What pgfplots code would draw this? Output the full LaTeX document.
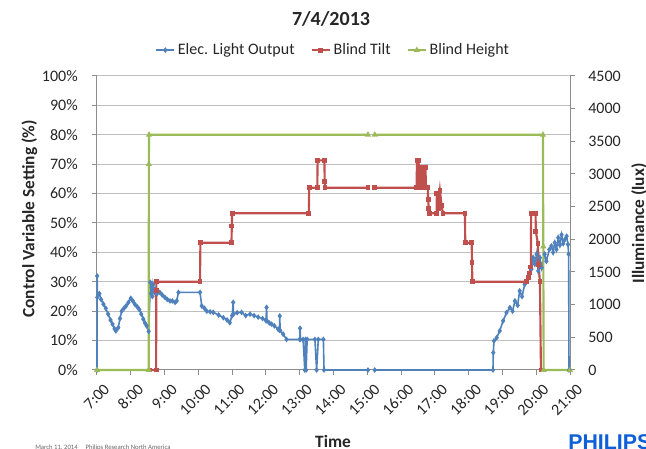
\documentclass[border=0pt]{standalone}
\usepackage{pgfplots}
\pgfplotsset{compat=1.18}
\usepackage{fontspec}
\setmainfont{Carlito}
\newfontfamily\philipsfont{Liberation Sans}
\definecolor{xblue}{HTML}{4F81BD}
\definecolor{xred}{HTML}{C0504D}
\definecolor{xgreen}{HTML}{9BBB59}
\definecolor{gridgray}{HTML}{BFBFBF}
\definecolor{axgray}{HTML}{8C8C8C}
\definecolor{philblue}{HTML}{0E5FD8}
\newcommand{\tfont}{\fontsize{12}{14}\selectfont}
\begin{document}
\begin{tikzpicture}
\useasboundingbox (0,0) rectangle (484.5pt,336.75pt);
\clip (0,0) rectangle (484.5pt,336.75pt);
\begin{axis}[
  at={(72.75pt,59.25pt)}, anchor=south west,
  scale only axis, width=354.75pt, height=220.5pt,
  xmin=7, xmax=21, ymin=0, ymax=100,
  clip=false,
  axis x line*=bottom, axis y line*=left,
  axis line style={axgray, line width=0.75pt},
  tick align=outside, major tick length=3.75pt,
  tick style={axgray, line width=0.75pt},
  xtick={7,8,...,21},
  xticklabels={7:00,8:00,9:00,10:00,11:00,12:00,13:00,14:00,15:00,16:00,17:00,18:00,19:00,20:00,21:00},
  ytick={0,10,...,100},
  yticklabels={0\%,10\%,20\%,30\%,40\%,50\%,60\%,70\%,80\%,90\%,100\%},
  ymajorgrids, grid style={gridgray, line width=0.75pt},
  yticklabel style={font=\tfont, text=black!85, anchor=east, inner sep=0pt, xshift=-10.5pt},
  xticklabel style={font=\tfont, text=black!85, inner sep=0pt, anchor=east, xshift=7.5pt, yshift=-8.6pt, rotate=45},
  unbounded coords=jump,
  legend columns=3,
  legend cell align=left,
  legend style={at={(0.5,1.088)}, anchor=center, draw=none, fill=none, font=\tfont, text=black!85,
    /tikz/every even column/.append style={column sep=10pt}},
  legend image code/.code={\draw[mark repeat=2,mark phase=2] plot coordinates {(0cm,0cm) (0.24cm,0cm) (0.48cm,0cm)};},
]
\addplot[color=xblue, line width=1.2pt, mark=diamond*, mark size=1.2pt, mark options={solid}] coordinates {
(7.00,0) (7.005,32) (7.01,24.7) (7.07,26) (7.12,24) (7.19,22.4) (7.26,21) (7.33,19) (7.40,17)
(7.46,15.6) (7.52,14) (7.56,13.3) (7.63,14.4) (7.68,17.5) (7.73,20) (7.80,21) (7.86,21.8)
(7.93,23) (8.00,24.4) (8.06,23.5) (8.12,22.4) (8.19,21.5) (8.25,20.6) (8.31,19) (8.37,17.3)
(8.42,16) (8.47,15) (8.53,13.1) (8.58,29.8) (8.60,26) (8.62,28) (8.64,25) (8.66,29) (8.70,26.5)
(8.72,27.5) (8.78,26) (8.86,26.4) (8.93,25.5) (9.01,24.7) (9.08,24) (9.16,23.5) (9.23,23.5)
(9.31,23) (9.36,23.5) (9.41,26.4) (10.05,26.4) (10.10,21.8) (10.18,21) (10.25,20)
(10.35,19.8) (10.44,19.6) (10.6,18.7) (10.74,17.8) (10.85,17) (10.93,16.1) (11.00,18.5)
(11.03,23) (11.04,19) (11.15,19.5) (11.28,19.6) (11.40,18.5) (11.53,19) (11.65,18.5) (11.77,18)
(11.90,17.5) (12.00,16.8) (12.02,21.3) (12.03,16.7) (12.10,16) (12.17,15.6) (12.25,15) (12.36,13.9)
(12.40,13.5) (12.41,18.4) (12.42,13.5) (12.51,12.2) (12.61,10.4) (13.00,10.4) (13.01,14.2)
(13.02,10.4) (13.10,10.4) (13.15,0) (13.17,10.4) (13.19,0) (13.22,10.4) (13.45,10.4) (13.50,0)
(13.55,10.4) (13.70,10.4) (13.72,0) (15.02,0) (15.1,nan)
(15.22,0) (18.72,0)
(18.73,5.9) (18.75,9.9) (18.83,11) (18.92,13.3) (19.02,16.7) (19.12,19.5) (19.22,21.2)
(19.30,20) (19.37,23.5) (19.45,22) (19.51,26.9) (19.58,25) (19.66,29.1) (19.76,31.4) (19.86,34.3)
(19.91,38.2) (19.96,36) (20.01,39.4) (20.06,33.7) (20.11,38.2) (20.16,34.8) (20.25,39.4)
(20.30,37) (20.39,41) (20.45,42.2) (20.50,40) (20.55,43.3) (20.60,41) (20.65,45) (20.70,42.5)
(20.75,46) (20.80,43) (20.85,44.4) (20.90,45.5) (20.94,42.7) (20.96,39.4) (20.97,0)
};
\addlegendentry{Elec. Light Output}
\addplot[color=xred, line width=1.6pt, mark=square*, mark size=1.0pt, mark options={solid}] coordinates {
(8.57,0) (8.75,0) (8.755,27) (8.76,30) (10.05,30) (10.06,43.3) (10.98,43.3) (10.99,49)
(11.00,53.3) (13.27,53.3) (13.28,62) (13.52,62) (13.53,71.3) (13.73,71.3) (13.74,64) (13.75,62)
(15.02,62) (15.1,nan) (15.22,62)
(16.46,62) (16.47,71.3) (16.52,71.3) (16.53,62) (16.57,69) (16.61,62) (16.65,69) (16.69,62)
(16.72,69) (16.74,62) (16.79,62) (16.80,58) (16.82,55)
(16.85,53.3) (17.05,53.3) (17.06,60) (17.10,55) (17.15,61) (17.20,56) (17.24,53.3)
(17.89,53.3) (17.90,43.3) (18.09,43.3) (18.10,36.5) (18.11,30) (19.72,30) (19.76,31.4)
(19.80,33) (19.84,35) (19.85,53.3) (19.98,53.3) (19.99,47) (20.05,43) (20.07,36) (20.11,30)
(20.14,0) (20.17,0)
};
\addlegendentry{Blind Tilt}
\addplot[color=xgreen, line width=1.6pt, mark=triangle*, mark size=1.1pt, mark options={solid}] coordinates {
(7.00,0) (8.53,0) (8.535,70) (8.54,80) (15.02,80) (15.1,nan) (15.22,80) (20.20,80) (20.21,42)
(20.22,0) (21.00,0)
};
\addlegendentry{Blind Height}
\end{axis}
\begin{axis}[
  at={(72.75pt,59.25pt)}, anchor=south west,
  scale only axis, width=354.75pt, height=220.5pt,
  xmin=7, xmax=21, ymin=0, ymax=4500,
  axis y line*=right, axis x line=none,
  axis line style={axgray, line width=0.75pt},
  tick align=outside, major tick length=3.75pt,
  tick style={axgray, line width=0.75pt},
  ytick={0,500,...,4500},
  yticklabels={0,500,1000,1500,2000,2500,3000,3500,4000,4500},
  yticklabel style={font=\tfont, text=black!85, anchor=west, inner sep=0pt, xshift=9.75pt},
]
\end{axis}
\begin{scope}[x=0.75pt,y=-0.75pt,shift={(0,336.75pt)}]
\node[anchor=base, inner sep=0pt, font=\fontsize{15}{18}\selectfont\bfseries, text=black!85] at (331,26) {7/4/2013};
\node[rotate=90, inner sep=0pt, font=\fontsize{13}{15}\selectfont\bfseries, text=black!85] at (29.5,219) {Control Variable Setting (\%)};
\node[rotate=90, inner sep=0pt, font=\fontsize{13}{15}\selectfont\bfseries, text=black!85] at (639,223.5) {Illuminance (lux)};
\node[inner sep=0pt, font=\fontsize{13}{15}\selectfont\bfseries, text=black!85] at (333,441) {Time};
\node[anchor=north west, inner sep=0pt, font=\fontsize{5}{6}\selectfont, text=black!60] at (35,445) {March 11, 2014\hspace{1.2em}Philips Research North America};
\node[anchor=north west, inner sep=0pt, font=\philipsfont\fontsize{16}{18}\selectfont\bfseries, text=philblue] at (568,434) {PHILIPS};
\end{scope}
\end{tikzpicture}
\end{document}
